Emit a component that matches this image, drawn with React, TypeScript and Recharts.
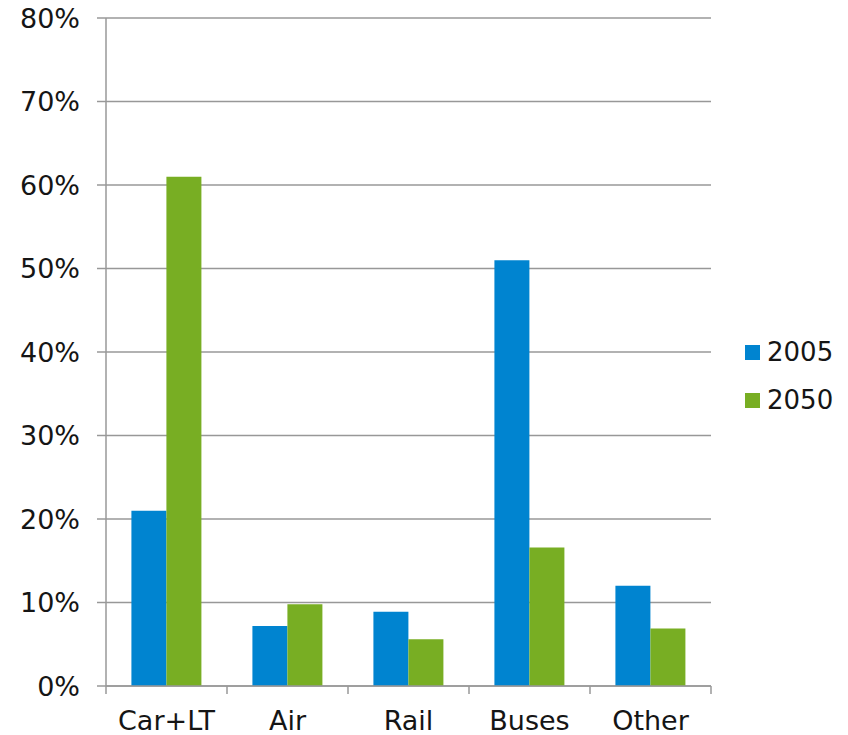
import React from 'react';
import { BarChart, Bar, XAxis, YAxis, CartesianGrid } from 'recharts';

const categories = ['Car+LT', 'Air', 'Rail', 'Buses', 'Other'];
const share2005 = [21, 7.2, 8.9, 51, 12];
const share2050 = [61, 9.8, 5.6, 16.6, 6.9];
const yTicks = [0, 10, 20, 30, 40, 50, 60, 70, 80];

const BLUE = '#0084D0';
const GREEN = '#78AE23';
const GRID = '#989898';
const TEXT = '#151515';
const FONT = '"DejaVu Sans", Verdana, sans-serif';

const WIDTH = 848;
const HEIGHT = 735;
const MARGIN = { top: 18, right: 137, bottom: 0, left: 0 };
const Y_AXIS_W = 106;
const X_AXIS_H = 49;

const data = categories.map((name, i) => ({
  name,
  y2005: share2005[i],
  y2050: share2050[i],
}));

const plotWidth = WIDTH - MARGIN.left - MARGIN.right - Y_AXIS_W;
const step = plotWidth / categories.length;

// category label plus tick marks on the band edges
function CategoryTick(props: any) {
  const { x, y, payload, index } = props;
  const last = index === categories.length - 1;
  return (
    <g>
      <line x1={x - step / 2} x2={x - step / 2} y1={y} y2={y + 8} stroke={GRID} strokeWidth={1.5} />
      {last && <line x1={x + step / 2} x2={x + step / 2} y1={y} y2={y + 8} stroke={GRID} strokeWidth={1.5} />}
      <text x={x} y={y + 44} textAnchor="middle" fontSize={27} fill={TEXT} fontFamily={FONT}>
        {payload.value}
      </text>
    </g>
  );
}

const legendItems = [
  { label: '2005', color: BLUE },
  { label: '2050', color: GREEN },
];

export default function App() {
  return (
    <div style={{ position: 'absolute', left: 0, top: 0, width: WIDTH, height: HEIGHT, background: '#fff' }}>
      <BarChart
        width={WIDTH}
        height={HEIGHT}
        data={data}
        margin={MARGIN}
        barGap={0}
        barCategoryGap="21%"
      >
        <CartesianGrid vertical={false} stroke={GRID} strokeWidth={1.5} />
        <XAxis
          dataKey="name"
          height={X_AXIS_H}
          axisLine={{ stroke: GRID, strokeWidth: 1.5 }}
          tickLine={false}
          tickSize={0}
          tickMargin={0}
          interval={0}
          tick={<CategoryTick />}
        />
        <YAxis
          width={Y_AXIS_W}
          domain={[0, 80]}
          ticks={yTicks}
          interval={0}
          tickFormatter={(v: number) => `${v}%`}
          axisLine={{ stroke: GRID, strokeWidth: 1.5 }}
          tickLine={{ stroke: GRID, strokeWidth: 1.5 }}
          tickSize={9}
          tickMargin={17}
          tick={{ fontSize: 27, fill: TEXT, fontFamily: FONT }}
        />
        <Bar dataKey="y2005" fill={BLUE} isAnimationActive={false} />
        <Bar dataKey="y2050" fill={GREEN} isAnimationActive={false} />
      </BarChart>
      <div style={{ position: 'absolute', left: 745, top: 337, fontFamily: FONT, fontSize: 26, color: TEXT }}>
        {legendItems.map((item) => (
          <div key={item.label} style={{ display: 'flex', alignItems: 'center', height: 30, marginBottom: 18 }}>
            <span style={{ width: 15, height: 15, background: item.color, marginRight: 7, display: 'inline-block' }} />
            <span>{item.label}</span>
          </div>
        ))}
      </div>
    </div>
  );
}
